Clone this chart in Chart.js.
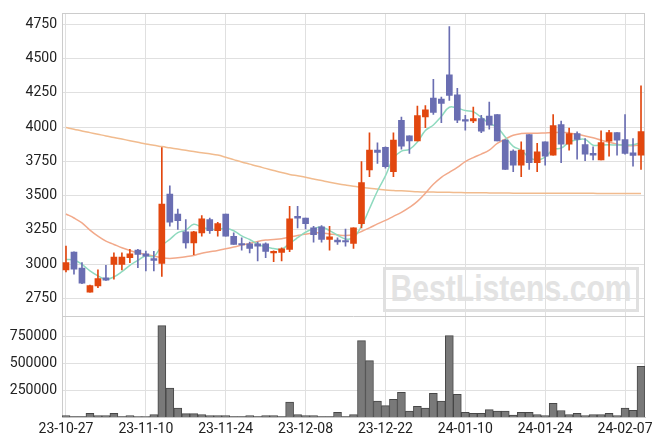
<!DOCTYPE html>
<html>
<head>
<meta charset="utf-8">
<script src="https://cdn.jsdelivr.net/npm/chart.js@4.4.0/dist/chart.umd.min.js"></script>
<style>
    html, body { margin: 0; padding: 0; background: #fff; }
    #wrap { position: relative; width: 663px; height: 444px; }
    #mark {
        position: absolute; left: 383px; top: 267px; width: 256px; height: 45px;
        box-sizing: border-box; border: 3px solid #e0e0e0;
        display: flex; justify-content: center; align-items: center;
        font: bold 36px "Liberation Sans", Arial, sans-serif; color: #e3e3e3;
        line-height: 37px; white-space: nowrap;
    }
    #mark span { display: block; flex: none; transform-origin: center; margin-top: -2px; }
    canvas { position: relative; z-index: 1; }
</style>
</head>
<body>
<div id="wrap">
    <div id="mark"><span id="markText">BestListens.com</span></div>
    <canvas id="chart" width="663" height="444"></canvas>
</div>
<script>
const dates = [
    '23-10-27', '23-10-30', '23-10-31', '23-11-01', '23-11-02', '23-11-03', '23-11-06', '23-11-07', '23-11-08', '23-11-09',
    '23-11-10', '23-11-13', '23-11-14', '23-11-15', '23-11-16', '23-11-17', '23-11-20', '23-11-21', '23-11-22', '23-11-23',
    '23-11-24', '23-11-27', '23-11-28', '23-11-29', '23-11-30', '23-12-01', '23-12-04', '23-12-05', '23-12-06', '23-12-07',
    '23-12-08', '23-12-11', '23-12-12', '23-12-13', '23-12-14', '23-12-15', '23-12-18', '23-12-19', '23-12-20', '23-12-21',
    '23-12-22', '23-12-26', '23-12-27', '23-12-28', '24-01-02', '24-01-03', '24-01-04', '24-01-05', '24-01-08', '24-01-09',
    '24-01-10', '24-01-11', '24-01-12', '24-01-15', '24-01-16', '24-01-17', '24-01-18', '24-01-19', '24-01-22', '24-01-23',
    '24-01-24', '24-01-25', '24-01-26', '24-01-29', '24-01-30', '24-01-31', '24-02-01', '24-02-02', '24-02-05', '24-02-06',
    '24-02-07', '24-02-08', '24-02-13'
];

const opens = [
    2958, 3088, 2972, 2796, 2842, 2900, 2999, 2999, 3047, 3103,
    3076, 3040, 3006, 3511, 3366, 3236, 3156, 3228, 3325, 3245,
    3366, 3204, 3151, 3149, 3149, 3149, 3083, 3086, 3108, 3349,
    3337, 3265, 3272, 3180, 3175, 3173, 3151, 3296, 3687, 3832,
    3852, 3675, 4050, 3936, 3900, 4074, 4212, 4204, 4381, 4236,
    4055, 4045, 4062, 4081, 4091, 3905, 3825, 3723, 3946, 3740,
    3893, 3796, 4018, 3876, 3953, 3873, 3808, 3760, 3898, 3960,
    3910, 3813, 3796
];
const highs = [
    3132, 3090, 3011, 2848, 2958, 2992, 3083, 3083, 3108, 3108,
    3096, 3093, 3851, 3571, 3402, 3325, 3240, 3354, 3337, 3306,
    3366, 3228, 3192, 3161, 3161, 3156, 3098, 3120, 3422, 3422,
    3337, 3277, 3282, 3277, 3192, 3257, 3265, 3748, 3958, 3886,
    3857, 3958, 4074, 3936, 4154, 4158, 4349, 4219, 4733, 4284,
    4086, 4146, 4086, 4183, 4091, 3910, 3835, 3893, 3946, 3881,
    3893, 4091, 4045, 3994, 3965, 3917, 3857, 3973, 3977, 3960,
    4091, 3917, 4301
];
const lows = [
    2943, 2927, 2858, 2796, 2828, 2881, 2890, 2958, 3011, 2975,
    2951, 2951, 2910, 3277, 3253, 3117, 3069, 3204, 3224, 3204,
    3204, 3144, 3103, 3083, 3023, 3047, 3018, 3023, 3091, 3265,
    3257, 3161, 3161, 3103, 3144, 3132, 3115, 3265, 3639, 3736,
    3700, 3639, 3840, 3808, 3900, 3997, 4093, 4033, 4195, 4033,
    3977, 4033, 3960, 3985, 3900, 3692, 3675, 3639, 3692, 3675,
    3723, 3796, 3740, 3832, 3767, 3755, 3760, 3760, 3789, 3796,
    3803, 3716, 3692
];
const closes = [
    3011, 2963, 2861, 2844, 2895, 2883, 3052, 3052, 3076, 3071,
    3059, 3028, 3439, 3306, 3318, 3156, 3236, 3330, 3245, 3296,
    3204, 3144, 3141, 3115, 3132, 3093, 3093, 3112, 3330, 3335,
    3296, 3216, 3180, 3199, 3163, 3163, 3265, 3595, 3832, 3815,
    3711, 3905, 3861, 3900, 4084, 4127, 4108, 4173, 4231, 4050,
    4043, 4062, 3970, 4014, 3900, 3692, 3723, 3832, 3740, 3820,
    3789, 4011, 3876, 3953, 3910, 3803, 3796, 3888, 3960, 3905,
    3808, 3794, 3968
];
const volumes = [
    15500, 6000, 6000, 37000, 15500, 15500, 37000, 6000, 15500, 5000,
    5000, 25000, 852000, 270000, 84000, 34000, 34000, 25000, 15500, 15500,
    15500, 6000, 6000, 15500, 6000, 15500, 15500, 6000, 140000, 25000,
    15500, 15500, 6000, 6000, 46000, 6000, 25000, 713000, 527000, 149000,
    108000, 167000, 232000, 56000, 102000, 84000, 223000, 149000, 759000, 214000,
    46000, 37000, 37000, 71000, 56000, 56000, 19000, 46000, 46000, 25000,
    15500, 130000, 62000, 25000, 37000, 15500, 25000, 25000, 37000, 15500,
    84000, 65000, 474000
];

// moving averages
const ma5 = [
    3035, 3030, 2999, 2951, 2915, 2889, 2907, 2945, 2992, 3027,
    3062, 3057, 3135, 3181, 3230, 3249, 3291, 3269, 3257, 3253,
    3262, 3244, 3206, 3180, 3147, 3125, 3115, 3109, 3152, 3193,
    3233, 3258, 3271, 3245, 3211, 3184, 3194, 3277, 3404, 3534,
    3644, 3772, 3825, 3838, 3892, 3975, 4016, 4078, 4145, 4138,
    4121, 4112, 4071, 4028, 3998, 3928, 3860, 3832, 3777, 3761,
    3781, 3838, 3847, 3890, 3908, 3911, 3868, 3870, 3871, 3870,
    3871, 3871, 3887
];
const ma20 = [
    3366, 3337, 3301, 3248, 3204, 3168, 3144, 3120, 3100, 3083,
    3071, 3059, 3047, 3042, 3047, 3054, 3064, 3080, 3090, 3100,
    3112, 3125, 3139, 3151, 3166, 3176, 3180, 3185, 3197, 3209,
    3219, 3228, 3228, 3221, 3214, 3209, 3216, 3238, 3265, 3294,
    3320, 3349, 3378, 3414, 3458, 3518, 3583, 3634, 3670, 3707,
    3748, 3778, 3803, 3832, 3881, 3912, 3941, 3953, 3956, 3956,
    3958, 3960, 3963, 3958, 3948, 3936, 3922, 3905, 3890, 3876,
    3866, 3864, 3871
];
const ma120 = [
    3997, 3985, 3972, 3960, 3948, 3936, 3925, 3913, 3901, 3889,
    3877, 3868, 3858, 3849, 3840, 3831, 3822, 3813, 3805, 3796,
    3780, 3763, 3746, 3730, 3714, 3699, 3684, 3669, 3655, 3645,
    3635, 3622, 3610, 3598, 3587, 3577, 3568, 3561, 3554, 3548,
    3542, 3538, 3535, 3532, 3529, 3527, 3526, 3525, 3524, 3523,
    3522, 3521, 3521, 3520, 3519, 3519, 3518, 3518, 3518, 3518,
    3518, 3518, 3518, 3517, 3517, 3517, 3517, 3516, 3516, 3516,
    3515, 3515, 3515
];

const priceTicks = [2750, 3000, 3250, 3500, 3750, 4000, 4250, 4500, 4750];
const volumeTicks = [250000, 500000, 750000];

const UP = '#e2470f';
const DOWN = '#6a6eb2';
const GRID = '#e0e0e0';
const EDGE = '#cccccc';

// squeeze the watermark text to its width in the picture
const markText = document.getElementById('markText');
markText.style.transform = 'scaleX(' + (241 / markText.offsetWidth).toFixed(3) + ')';

function candleColor(ctx) {
    const i = ctx.dataIndex;
    return closes[i] >= opens[i] ? UP : DOWN;
}

// frame around plot and line between price and volume panels
const framePlugin = {
    id: 'frame',
    beforeDatasetsDraw(chart) {
        const { ctx, chartArea: a, scales } = chart;
        ctx.save();
        ctx.strokeStyle = EDGE;
        ctx.lineWidth = 1;
        ctx.strokeRect(Math.round(a.left) + 0.5, Math.round(a.top) + 0.5,
            Math.round(a.width) - 1, Math.round(a.height) - 1);
        ctx.beginPath();
        ctx.moveTo(a.left, Math.round(scales.vol.top) + 0.5);
        ctx.lineTo(a.right, Math.round(scales.vol.top) + 0.5);
        ctx.stroke();
        ctx.restore();
    }
};

const tickFont = { family: 'Roboto', size: 14 };

new Chart(document.getElementById('chart'), {
    type: 'bar',
    data: {
        labels: dates,
        datasets: [
            {
                type: 'line', data: ma5, yAxisID: 'y', borderColor: '#8fdabf',
                borderWidth: 1.5, pointRadius: 0, tension: 0.4, order: 3
            },
            {
                type: 'line', data: ma20, yAxisID: 'y', borderColor: '#f2a98a',
                borderWidth: 1.5, pointRadius: 0, tension: 0.4, order: 3
            },
            {
                type: 'line', data: ma120, yAxisID: 'y', borderColor: '#f1bb8e',
                borderWidth: 1.5, pointRadius: 0, tension: 0.4, order: 3
            },
            {
                data: lows.map((l, i) => [l, highs[i]]), yAxisID: 'y',
                backgroundColor: candleColor, barThickness: 1, grouped: false, order: 2
            },
            {
                data: opens.map((o, i) => [o, closes[i]]), yAxisID: 'y',
                backgroundColor: candleColor, barThickness: 6, minBarLength: 1,
                grouped: false, order: 1
            },
            {
                data: volumes, yAxisID: 'vol', backgroundColor: '#797979',
                borderColor: '#474747', borderWidth: 1, barPercentage: 1,
                categoryPercentage: 1, grouped: false, order: 5
            }
        ]
    },
    options: {
        responsive: false,
        animation: false,
        layout: { padding: { left: 10, right: 18, top: 9, bottom: 2 } },
        plugins: { legend: { display: false }, tooltip: { enabled: false } },
        scales: {
            x: {
                grid: { offset: false, color: GRID, drawTicks: false },
                border: { color: EDGE },
                ticks: {
                    autoSkip: false, maxRotation: 0, padding: 4, color: '#222', font: tickFont,
                    callback: (v, i) => (i % 10 === 0 ? dates[i] : null)
                }
            },
            vol: {
                type: 'linear', position: 'left', stack: 'panel', stackWeight: 1,
                min: 0, max: 940000,
                grid: { color: GRID, drawTicks: false },
                border: { color: EDGE },
                afterBuildTicks: scale => { scale.ticks = volumeTicks.map(v => ({ value: v })); },
                afterFit: scale => { scale.width = 52; },
                ticks: { padding: 5, color: '#222', font: tickFont, callback: v => String(v) }
            },
            y: {
                type: 'linear', position: 'left', stack: 'panel', stackWeight: 3,
                min: 2620, max: 4830,
                grid: { color: GRID, drawTicks: false },
                border: { color: EDGE },
                afterBuildTicks: scale => { scale.ticks = priceTicks.map(v => ({ value: v })); },
                afterFit: scale => { scale.width = 52; },
                ticks: { padding: 5, color: '#222', font: tickFont, callback: v => String(v) }
            }
        }
    },
    plugins: [framePlugin]
});
</script>
</body>
</html>
